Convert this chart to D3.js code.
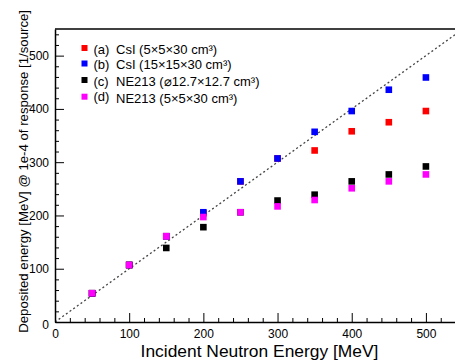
<!DOCTYPE html>
<html>
<head>
<meta charset="utf-8">
<script src="https://cdn.jsdelivr.net/npm/d3@7"></script>
<style>
  html, body { margin: 0; padding: 0; background: #fff; }
  svg { display: block; font-family: "Liberation Sans", Arial, Helvetica, sans-serif; }
</style>
</head>
<body>
<svg id="chart" width="455" height="360"></svg>
<script>
// ---- data ----
const energies = [50, 100, 150, 200, 250, 300, 350, 400, 450, 500];
const seriesA = [54, 107, 161, 204, 264, 307, 322, 358, 375, 396];   // CsI 5x5x30
const seriesB = [54, 107, 161, 206, 264, 307, 357, 396, 436, 459];   // CsI 15x15x30
const seriesC = [54, 107, 139, 178, 206, 228, 239, 264, 277, 292];   // NE213 d12.7x12.7
const seriesD = [54, 107, 161, 197, 206, 217, 229, 251, 264, 277];   // NE213 5x5x30
const seriesNames = ["(a)", "(b)", "(c)", "(d)"];
const seriesLabels = ["CsI (5×5×30 cm³)", "CsI (15×15×30 cm³)", "NE213 (⌀12.7×12.7 cm³)", "NE213 (5×5×30 cm³)"];
const seriesColors = ["#ff0000", "#0000ff", "#000000", "#ff00ff"];
const xTicks = [0, 100, 200, 300, 400, 500];
const yTicks = [0, 100, 200, 300, 400, 500];
const xTitle = "Incident Neutron Energy [MeV]";
const yTitle = "Deposited energy [MeV] @ 1e-4 of response [1/source]";

const allSeries = [seriesA, seriesB, seriesC, seriesD];

const svg = d3.select("#chart");
const L = 55, R = 463, T = 29, B = 322;
const x = d3.scaleLinear().domain([0, 550]).range([L, R]);
const y = d3.scaleLinear().domain([0, 550]).range([B, T]);

// plot clip
svg.append("defs").append("clipPath").attr("id", "clip")
  .append("rect").attr("x", L).attr("y", T).attr("width", R - L).attr("height", B - T);

// diagonal y = x
const diag = [0, 550];
svg.append("line")
  .attr("clip-path", "url(#clip)")
  .attr("x1", x(diag[0])).attr("y1", y(diag[0]))
  .attr("x2", x(diag[1])).attr("y2", y(diag[1]))
  .attr("stroke", "#444").attr("stroke-width", 1.3)
  .attr("stroke-dasharray", "2,2.5");

// markers
const ms = 6.6;
allSeries.forEach((vals, si) => {
  svg.append("g").selectAll("rect").data(vals).join("rect")
    .attr("x", (d, i) => x(energies[i]) - ms / 2)
    .attr("y", d => y(d) - ms / 2)
    .attr("width", ms).attr("height", ms)
    .attr("fill", seriesColors[si]);
});

// axes (ticks inward)
const xMinor = d3.range(0, 551, 20).filter(v => v % 100 !== 0);
const yMinor = d3.range(0, 551, 20).filter(v => v % 100 !== 0);

const gx = svg.append("g").attr("transform", `translate(0,${B})`)
  .call(d3.axisBottom(x).tickValues(xTicks).tickSize(-9).tickPadding(12).tickSizeOuter(0));
svg.append("g").attr("transform", `translate(0,${B})`)
  .call(d3.axisBottom(x).tickValues(xMinor).tickSize(-4).tickFormat("").tickSizeOuter(0))
  .select(".domain").remove();
const gy = svg.append("g").attr("transform", `translate(${L},0)`)
  .call(d3.axisLeft(y).tickValues(yTicks).tickSize(-9).tickPadding(12).tickSizeOuter(0));
svg.append("g").attr("transform", `translate(${L},0)`)
  .call(d3.axisLeft(y).tickValues(yMinor).tickSize(-4).tickFormat("").tickSizeOuter(0))
  .select(".domain").remove();

svg.selectAll(".tick text").attr("font-size", 12).attr("fill", "#000")
  .attr("font-family", "Liberation Sans, Arial, sans-serif");
svg.selectAll(".domain").attr("stroke", "#000").attr("stroke-width", 1.5);
svg.selectAll(".tick line").attr("stroke", "#000");
gx.selectAll(".tick text").attr("dy", "0.3em");
gy.selectAll(".tick text").attr("dx", 6);
gy.selectAll(".tick").filter(d => d === 0).select("text").attr("dy", "0.5em");

// top frame
svg.append("line").attr("x1", L).attr("x2", R).attr("y1", T).attr("y2", T)
  .attr("stroke", "#000").attr("stroke-width", 1.5);

// titles
svg.append("text").attr("x", 259.5).attr("y", 357).attr("text-anchor", "middle")
  .attr("font-size", 17.4).text(xTitle);
svg.append("text").attr("transform", "translate(28,10) rotate(-90)")
  .attr("text-anchor", "end").attr("font-size", 13.2).text(yTitle);

// legend
const lg = svg.append("g");
const rowY = [48, 63.5, 80, 96.7];
seriesNames.forEach((n, i) => {
  const yy = rowY[i];
  lg.append("rect").attr("x", 81.5).attr("y", yy - 3).attr("width", 6).attr("height", 6)
    .attr("fill", seriesColors[i]);
  lg.append("text").attr("x", 93.5).attr("y", yy + (i === 3 ? 4 : 5.5)).attr("font-size", 13).text(n);
  lg.append("text").attr("x", 116).attr("y", yy + (i === 3 ? 6.5 : 5.5)).attr("font-size", 13).text(seriesLabels[i]);
});
</script>
</body>
</html>
